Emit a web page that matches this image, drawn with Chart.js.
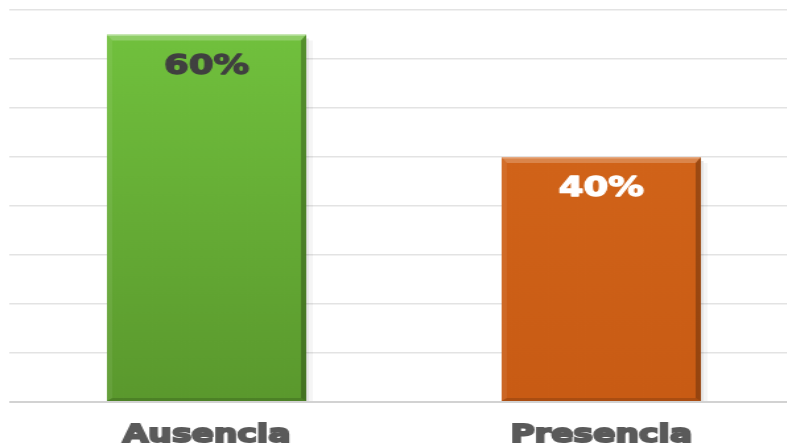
<!DOCTYPE html>
<html><head><meta charset="utf-8">
<style>
html,body{margin:0;padding:0;background:#fff;overflow:hidden;width:787px;height:446px;}
#wrap{width:606px;height:446px;transform:scaleX(1.32);transform-origin:0 0;}
#c{display:block;}
</style>
<script src="https://cdn.jsdelivr.net/npm/chart.js@4/dist/chart.umd.min.js"></script>
</head><body>
<div id="wrap"><canvas id="c" width="606" height="446" style="width:606px;height:446px"></canvas></div>
<script>
// ---- data ----
const categories = ['Ausencia', 'Presencia'];
const values = [60, 40];
const valueLabels = ['60%', '40%'];
const yMin = 0, yMax = 64, yStep = 8;

// ---- styles ----
const barGrad = [['#72c33e', '#5a982d'], ['#d6681c', '#c85b14']];
const labelColors = ['#404040', '#ffffff'];

function barFill(ctx) {
  const i = ctx.dataIndex || 0;
  const chart = ctx.chart; const a = chart.chartArea;
  if (!a) return barGrad[i][0];
  const g = chart.ctx.createLinearGradient(0, a.top, 0, a.bottom);
  g.addColorStop(0, barGrad[i][0]);
  g.addColorStop(1, barGrad[i][1]);
  return g;
}

const bevelPlugin = {
  id: 'bevel',
  beforeDatasetsDraw(chart) {
    const ctx = chart.ctx;
    chart.getDatasetMeta(0).data.forEach(el => {
      const r = el.x + el.width / 2;
      ctx.save();
      ctx.fillStyle = 'rgba(0,0,0,0.10)';
      ctx.fillRect(r, el.y + 4, 2, el.base - el.y - 4);
      ctx.fillStyle = 'rgba(0,0,0,0.04)';
      ctx.fillRect(r + 2, el.y + 6, 3, el.base - el.y - 6);
      ctx.restore();
    });
  },
  afterDatasetsDraw(chart) {
    const ctx = chart.ctx;
    chart.getDatasetMeta(0).data.forEach((el, i) => {
      const l = el.x - el.width / 2, r = el.x + el.width / 2, t = el.y, b = el.base;
      const bh = 4, bv = 6, bb = 3;
      ctx.save();
      // top bevel
      ctx.fillStyle = 'rgba(255,255,255,0.22)';
      ctx.beginPath(); ctx.moveTo(l, t); ctx.lineTo(r, t); ctx.lineTo(r - bh, t + bv); ctx.lineTo(l + bh, t + bv); ctx.closePath(); ctx.fill();
      ctx.fillStyle = 'rgba(255,255,255,0.30)';
      ctx.fillRect(l, t, r - l, 1.5);
      // left bevel
      ctx.fillStyle = 'rgba(255,255,255,0.07)';
      ctx.beginPath(); ctx.moveTo(l, t); ctx.lineTo(l + bh, t + bv); ctx.lineTo(l + bh, b - bb); ctx.lineTo(l, b); ctx.closePath(); ctx.fill();
      // right bevel
      ctx.fillStyle = 'rgba(0,0,0,0.25)';
      ctx.beginPath(); ctx.moveTo(r, t); ctx.lineTo(r, b); ctx.lineTo(r - bh, b - bb); ctx.lineTo(r - bh, t + bv); ctx.closePath(); ctx.fill();
      // bottom bevel
      ctx.fillStyle = 'rgba(0,0,0,0.15)';
      ctx.beginPath(); ctx.moveTo(l, b); ctx.lineTo(r, b); ctx.lineTo(r - bh, b - bb); ctx.lineTo(l + bh, b - bb); ctx.closePath(); ctx.fill();
      // value label
      ctx.fillStyle = labelColors[i];
      ctx.strokeStyle = labelColors[i];
      ctx.lineWidth = 1.4;
      ctx.lineJoin = 'round';
      ctx.font = 'bold 27px "DejaVu Sans"';
      ctx.textAlign = 'center';
      ctx.textBaseline = 'middle';
      ctx.fillText(valueLabels[i], el.x, t + 32);
      ctx.strokeText(valueLabels[i], el.x, t + 32);
      ctx.restore();
    });
  }
};

new Chart(document.getElementById('c'), {
  type: 'bar',
  data: {
    labels: categories,
    datasets: [{
      data: values,
      backgroundColor: barFill,
      borderWidth: 0,
      categoryPercentage: 1,
      barPercentage: 0.505
    }]
  },
  options: {
    responsive: false,
    animation: false,
    devicePixelRatio: 1,
    layout: { padding: { top: 10, left: 7, right: 1, bottom: 0 } },
    plugins: { legend: { display: false }, tooltip: { enabled: false } },
    scales: {
      x: {
        grid: { display: false },
        border: { display: false },
        ticks: {
          color: '#5a5a5a',
          textStrokeColor: '#5a5a5a',
          textStrokeWidth: 2,
          font: { family: '"DejaVu Sans"', weight: 'bold', size: 25 },
          padding: 10,
          maxRotation: 0
        },
        afterFit(s) { s.height = 44; }
      },
      y: {
        min: yMin, max: yMax,
        ticks: { display: false, stepSize: yStep },
        border: { display: false },
        grid: {
          drawTicks: false,
          color: c => (c.tick && c.tick.value === 0) ? '#d2d2d2' : '#e3e3e3',
          lineWidth: c => (c.tick && c.tick.value === 0) ? 2 : 1.6
        },
        afterFit(s) { s.width = 0; }
      }
    }
  },
  plugins: [bevelPlugin]
});
</script>
</body></html>
